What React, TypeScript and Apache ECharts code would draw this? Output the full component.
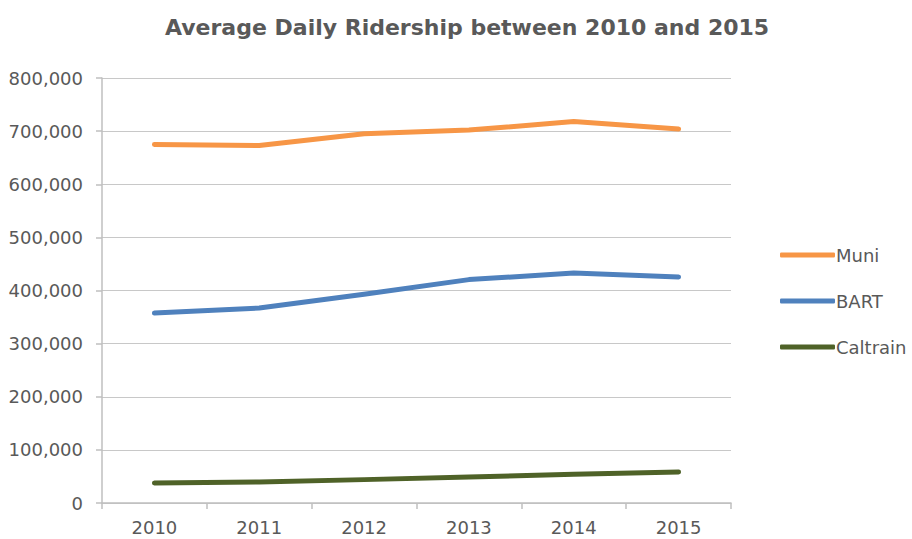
import React, { useEffect, useRef } from "react";
import * as echarts from "echarts";

const years = ["2010", "2011", "2012", "2013", "2014", "2015"];
const muni = [675000, 673000, 695000, 702000, 718000, 704000];
const bart = [357600, 367000, 393000, 420500, 433000, 425400];
const caltrain = [37600, 39500, 44000, 49000, 54000, 58400];
const yTicks = { min: 0, max: 800000, interval: 100000 };

const textColor = "#595959";
const font = "'DejaVu Sans', sans-serif";

export default function App() {
  const ref = useRef<HTMLDivElement>(null);
  useEffect(() => {
    const chart = echarts.init(ref.current!, null, { renderer: "svg" });
    const lineSeries = (name: string, data: number[], color: string) => ({
      name,
      type: "line",
      data,
      symbol: "none",
      smooth: false,
      lineStyle: { width: 5, color, cap: "round", join: "round" },
      itemStyle: { color },
    });
    chart.setOption({
      animation: false,
      backgroundColor: "#ffffff",
      title: {
        text: "Average Daily Ridership between 2010 and 2015",
        left: 160,
        top: 11,
        textStyle: { fontFamily: font, fontSize: 22, fontWeight: "bold", color: textColor },
      },
      legend: {
        orient: "vertical",
        left: 775,
        top: 241,
        itemWidth: 55,
        itemHeight: 5,
        itemGap: 28,
        icon: "roundRect",
        textStyle: { fontFamily: font, fontSize: 18, color: textColor, padding: [0, 0, 0, -4] },
        data: ["Muni", "BART", "Caltrain"],
      },
      grid: { left: 102, right: 181, top: 78, bottom: 36, containLabel: false },
      xAxis: {
        type: "category",
        data: years,
        boundaryGap: true,
        axisLine: { lineStyle: { color: "#BFBFBF", width: 1.5 } },
        axisTick: { show: true, length: 6, lineStyle: { color: "#BFBFBF", width: 1.5 } },
        axisLabel: { fontFamily: font, fontSize: 18, color: textColor, margin: 15 },
        splitLine: { show: false },
      },
      yAxis: {
        type: "value",
        min: yTicks.min,
        max: yTicks.max,
        interval: yTicks.interval,
        axisLine: { show: true, lineStyle: { color: "#BFBFBF", width: 1.5 } },
        axisTick: { show: true, length: 6, lineStyle: { color: "#BFBFBF", width: 1.5 } },
        axisLabel: {
          fontFamily: font,
          fontSize: 18,
          color: textColor,
          margin: 19,
          formatter: (v: number) => v.toLocaleString("en-US"),
        },
        splitLine: { show: true, lineStyle: { color: "#C8C8C8", width: 1.2 } },
      },
      series: [
        lineSeries("Muni", muni, "#F79646"),
        lineSeries("BART", bart, "#4F81BD"),
        lineSeries("Caltrain", caltrain, "#4F6228"),
      ],
    });
    return () => chart.dispose();
  }, []);
  return (
    <div
      ref={ref}
      style={{ position: "fixed", left: 0, top: 0, width: 912, height: 539 }}
    />
  );
}
